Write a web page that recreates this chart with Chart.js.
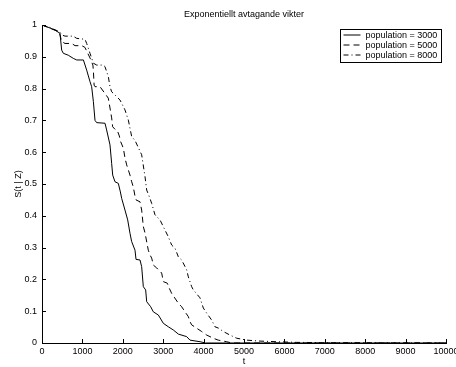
<!DOCTYPE html>
<html>
<head>
<meta charset="utf-8">
<script src="https://cdn.jsdelivr.net/npm/chart.js@4/dist/chart.umd.min.js"></script>
<style>
  html, body { margin: 0; padding: 0; background: #fff; }
  #wrap { width: 456px; height: 367px; }
</style>
</head>
<body>
<div id="wrap"><canvas id="c" width="456" height="367"></canvas></div>
<script>
// Texts
const chartTitle = 'Exponentiellt avtagande vikter';
const xAxisLabel = 't';
const yAxisLabel = 'S(t | Z)';
const seriesLabels = ['population = 3000', 'population = 5000', 'population = 8000'];

// Axis ticks
const xTickValues = [0, 1000, 2000, 3000, 4000, 5000, 6000, 7000, 8000, 9000, 10000];
const xTickLabels = ['0', '1000', '2000', '3000', '4000', '5000', '6000', '7000', '8000', '9000', '10000'];
const yTickValues = [0, 0.1, 0.2, 0.3, 0.4, 0.5, 0.6, 0.7, 0.8, 0.9, 1];
const yTickLabels = ['0', '0.1', '0.2', '0.3', '0.4', '0.5', '0.6', '0.7', '0.8', '0.9', '1'];

// Survival curve, population = 3000
const t3000 = [0, 150, 320, 445, 487, 528, 650, 775, 860, 1025,
  1106, 1188, 1229, 1271, 1312, 1353, 1560, 1600, 1683, 1724,
  1750, 1807, 1889, 1940, 1972, 2054, 2121, 2178, 2219, 2302,
  2327, 2426, 2467, 2508, 2566, 2591, 2690, 2756, 2880, 3003,
  3127, 3250, 3375, 3581, 3663, 3911, 4050, 10000];
const s3000 = [1, 0.993, 0.984, 0.974, 0.921, 0.911, 0.905, 0.895, 0.89, 0.89,
  0.858, 0.822, 0.806, 0.76, 0.70, 0.693, 0.691, 0.670, 0.623, 0.565,
  0.528, 0.507, 0.502, 0.475, 0.455, 0.418, 0.387, 0.345, 0.319, 0.292,
  0.263, 0.261, 0.24, 0.177, 0.167, 0.130, 0.114, 0.098, 0.088, 0.062,
  0.051, 0.041, 0.028, 0.02, 0.009, 0.004, 0, 0];

// Survival curve, population = 5000
const t5000 = [0, 200, 404, 445, 487, 569, 735, 817, 982, 1060,
  1190, 1260, 1271, 1290, 1312, 1436, 1641, 1683, 1724, 1749,
  1807, 1865, 1914, 1947, 2013, 2054, 2096, 2137, 2178, 2220,
  2261, 2302, 2327, 2426, 2467, 2508, 2550, 2574, 2631, 2673,
  2715, 2756, 2839, 2962, 3003, 3102, 3151, 3210, 3375, 3457,
  3540, 3622, 3663, 3705, 3953, 4076, 4240, 4364, 4571, 4700, 10000];
const s5000 = [1, 0.99, 0.979, 0.969, 0.948, 0.942, 0.942, 0.935, 0.935, 0.93,
  0.896, 0.874, 0.858, 0.811, 0.806, 0.806, 0.77, 0.739, 0.708, 0.68,
  0.672, 0.668, 0.651, 0.633, 0.613, 0.582, 0.56, 0.544, 0.528, 0.507,
  0.49, 0.462, 0.45, 0.444, 0.418, 0.366, 0.346, 0.33, 0.292, 0.277,
  0.267, 0.245, 0.236, 0.22, 0.193, 0.188, 0.172, 0.156, 0.125, 0.114,
  0.098, 0.083, 0.067, 0.057, 0.036, 0.025, 0.015, 0.009, 0.004, 0, 0];

// Survival curve, population = 8000
const t8000 = [0, 200, 445, 487, 569, 775, 858, 1064, 1106, 1188,
  1271, 1353, 1518, 1559, 1641, 1683, 1724, 1807, 1931, 2054,
  2137, 2220, 2302, 2467, 2550, 2591, 2657, 2715, 2797, 2921,
  3045, 3127, 3210, 3292, 3375, 3457, 3581, 3622, 3705, 3746,
  3911, 3993, 4076, 4200, 4282, 4364, 4488, 4653, 4820, 5067,
  5396, 5809, 6300, 7000, 10000];
const s8000 = [1, 0.992, 0.978, 0.969, 0.965, 0.965, 0.958, 0.955, 0.942, 0.911,
  0.88, 0.874, 0.874, 0.869, 0.838, 0.806, 0.79, 0.78, 0.764, 0.733,
  0.701, 0.649, 0.637, 0.592, 0.523, 0.481, 0.46, 0.439, 0.403, 0.387,
  0.355, 0.334, 0.308, 0.298, 0.271, 0.261, 0.23, 0.208, 0.177, 0.167,
  0.142, 0.11, 0.094, 0.072, 0.051, 0.047, 0.036, 0.025, 0.015, 0.009,
  0.006, 0.004, 0.002, 0.001, 0];

const FONT = "'Liberation Sans', Arial, Helvetica, sans-serif";
Chart.defaults.font.family = FONT;
Chart.defaults.font.size = 9;
Chart.defaults.color = '#000';

function pairs(ts, ss) {
  return ts.map((t, i) => ({ x: t, y: ss[i] }));
}

// Inward tick marks on the left and bottom axes
const innerTicks = {
  id: 'innerTicks',
  afterDatasetsDraw(chart) {
    const { ctx, chartArea: a, scales: { x, y } } = chart;
    const len = 4;
    ctx.save();
    ctx.strokeStyle = '#000';
    ctx.lineWidth = 1;
    ctx.beginPath();
    xTickValues.forEach(v => {
      const px = Math.round(x.getPixelForValue(v)) + 0.5;
      ctx.moveTo(px, a.bottom);
      ctx.lineTo(px, a.bottom - len);
    });
    yTickValues.forEach(v => {
      const py = Math.round(y.getPixelForValue(v)) + 0.5;
      ctx.moveTo(a.left, py);
      ctx.lineTo(a.left + len, py);
    });
    ctx.stroke();
    ctx.restore();
  }
};

// Boxed legend in the upper right corner of the plot
const boxLegend = {
  id: 'boxLegend',
  afterDatasetsDraw(chart) {
    const { ctx, chartArea: a } = chart;
    const bw = 101, bh = 33;
    const bx = Math.round(a.right - 5 - bw) + 0.5;
    const by = Math.round(a.top + 4) + 0.5;
    ctx.save();
    ctx.fillStyle = '#fff';
    ctx.fillRect(bx, by, bw, bh);
    ctx.strokeStyle = '#000';
    ctx.lineWidth = 1;
    ctx.setLineDash([]);
    ctx.strokeRect(bx, by, bw, bh);
    ctx.font = '9px ' + FONT;
    ctx.textBaseline = 'middle';
    ctx.textAlign = 'left';
    chart.data.datasets.forEach((ds, i) => {
      const ry = by + 5.5 + i * 10;
      ctx.beginPath();
      ctx.setLineDash(ds.borderDash || []);
      ctx.lineWidth = ds.borderWidth;
      ctx.strokeStyle = ds.borderColor;
      ctx.moveTo(bx + 3, ry);
      ctx.lineTo(bx + 20, ry);
      ctx.stroke();
      ctx.setLineDash([]);
      ctx.fillStyle = '#000';
      ctx.fillText(ds.label, bx + 25, ry + 0.5);
    });
    ctx.restore();
  }
};

new Chart(document.getElementById('c'), {
  type: 'line',
  data: {
    datasets: [
      { label: seriesLabels[0], data: pairs(t3000, s3000), borderColor: '#000', borderWidth: 1, borderDash: [] },
      { label: seriesLabels[1], data: pairs(t5000, s5000), borderColor: '#000', borderWidth: 1, borderDash: [6, 4] },
      { label: seriesLabels[2], data: pairs(t8000, s8000), borderColor: '#000', borderWidth: 1, borderDash: [5, 3, 1, 3] }
    ]
  },
  options: {
    responsive: false,
    devicePixelRatio: 1,
    animation: false,
    events: [],
    elements: { point: { radius: 0 }, line: { tension: 0, fill: false } },
    layout: { padding: { left: 0, right: 10, top: 0, bottom: 0 } },
    plugins: {
      legend: { display: false },
      tooltip: { enabled: false },
      title: {
        display: true,
        text: chartTitle,
        fullSize: false,
        color: '#000',
        font: { family: FONT, size: 9, weight: 'normal' },
        padding: { top: 9, bottom: 5.2 }
      }
    },
    scales: {
      x: {
        type: 'linear',
        min: 0,
        max: 10000,
        afterBuildTicks(s) { s.ticks = xTickValues.map(v => ({ value: v })); },
        afterFit(s) { s.height = 24; s.paddingLeft = 0; s.paddingRight = 0; },
        ticks: {
          autoSkip: false,
          maxRotation: 0,
          padding: 3,
          color: '#000',
          font: { family: FONT, size: 9 },
          callback: v => xTickLabels[xTickValues.indexOf(v)]
        },
        grid: { display: false, drawTicks: false },
        border: { display: true, color: '#000', width: 1 },
        title: { display: true, text: xAxisLabel, color: '#000', font: { family: FONT, size: 9 }, padding: { top: 0, bottom: 0 } }
      },
      y: {
        type: 'linear',
        min: 0,
        max: 1,
        afterBuildTicks(s) { s.ticks = yTickValues.map(v => ({ value: v })); },
        afterFit(s) { s.width = 42; },
        ticks: {
          autoSkip: false,
          padding: 5,
          color: '#000',
          font: { family: FONT, size: 9 },
          callback: v => yTickLabels[yTickValues.findIndex(t => Math.abs(t - v) < 1e-9)]
        },
        grid: { display: false, drawTicks: false },
        border: { display: true, color: '#000', width: 1 },
        title: { display: true, text: yAxisLabel, color: '#000', font: { family: FONT, size: 9 }, padding: { top: 13, bottom: 0 } }
      }
    }
  },
  plugins: [innerTicks, boxLegend]
});
</script>
</body>
</html>
